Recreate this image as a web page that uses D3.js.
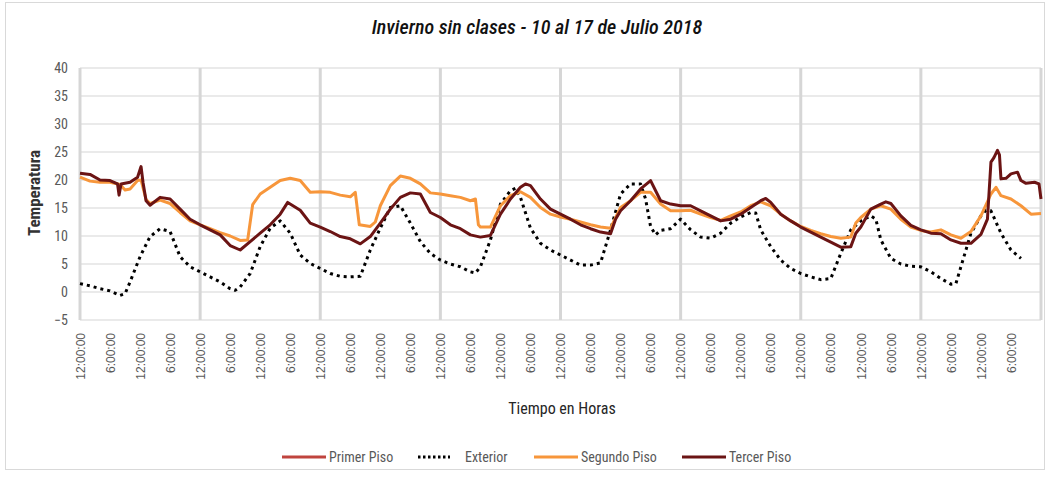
<!DOCTYPE html>
<html>
<head>
<meta charset="utf-8">
<script src="https://cdn.jsdelivr.net/npm/d3@7"></script>
<style>
  body { margin: 0; background: #ffffff; }
  svg text { font-family: "Liberation Sans Narrow", "Roboto Condensed", "Open Sans", sans-serif; }
</style>
</head>
<body>
<svg id="chart" width="1049" height="477"></svg>
<script>
// horas desde el 10 de julio 00:00 y temperaturas
const tercerHoras = [0,2,4,6,7.5,7.8,8.2,10,11.5,12.2,12.6,13.2,14,16,18,20,22,24,26,28,30,32,34,36,38,40,41.5,44,46,48,50,52,54,56,58,60,62,64,66,68,70,72,74,76,78,80,82,84,86,88,89,90,92,94,96,98,100,102,104,106,107,108,110,112,114,116,118,120,122,124,126,128,130,132,134,136,137,138,140,142,144,146,148,150,152,154,155,156,158,160,161,162,164,166,168,170,172,174,176,178,180,181.3,182,182.6,183.3,183.7,184,185,186,187.3,188,189,190.7,191.6,192];
const tercerTemp = [21.2,21.0,20.0,19.9,19.3,17.3,19.3,19.6,20.5,22.4,19.5,16.3,15.5,16.9,16.6,14.8,13.0,12.0,11.1,10.2,8.3,7.5,9.0,10.5,12.0,13.9,16.0,14.6,12.3,11.6,10.8,9.9,9.5,8.6,9.9,12.3,14.8,16.9,17.7,17.5,14.2,13.3,12.0,11.3,10.2,9.8,10.1,13.9,16.6,18.7,19.3,19.0,16.6,14.8,13.9,13.0,12.0,11.3,10.7,10.4,13.0,14.5,16.3,18.4,19.9,16.3,15.7,15.4,15.4,14.5,13.6,12.7,13.0,13.9,15.1,16.3,16.7,16.0,13.9,12.7,11.6,10.7,9.8,8.9,8.0,8.1,10.5,11.6,14.8,15.7,16.1,15.8,13.6,11.9,11.1,10.5,10.4,9.3,8.7,8.7,10.3,13.0,23.2,24.0,25.3,24.5,20.2,20.3,21.1,21.4,19.9,19.4,19.6,19.3,16.6];

const segundoHoras = [0,2,4,6,8,9,10,11.5,12.2,13.2,14,16,18,20,22,24,26,28,30,32,33.5,34.5,36,38,40,42,44,46,48,50,52,54,55,55.8,58,59,60,62,64,66,68,70,72,74,76,78,79,79.6,80,82,84,86,88,90,92,94,96,98,100,102,104,106,108,110,112,114,116,118,120,122,124,126,128,130,132,134,136,138,140,142,144,146,148,150,152,154,155,156,158,160,162,164,166,168,170,172,174,176,178,180,182,183,184,186,188,190,192];
const segundoTemp = [20.5,19.8,19.6,19.6,19.2,18.2,18.4,19.9,20.0,16.5,15.8,16.4,15.8,14.2,12.7,12.0,11.3,10.6,10.0,9.2,9.3,15.6,17.5,18.7,19.9,20.3,19.9,17.8,17.9,17.8,17.3,17.0,17.8,12.0,11.7,12.5,15.4,19.0,20.7,20.3,19.3,17.7,17.5,17.2,16.9,16.3,16.6,12.0,11.6,11.6,15.4,17.2,17.9,16.9,15.1,13.9,13.4,13.0,12.5,12.0,11.6,11.4,15.1,16.3,17.8,17.8,15.7,14.5,14.5,14.6,13.9,13.3,12.8,13.6,14.3,15.4,16.1,15.4,13.9,12.7,11.7,11.0,10.4,9.9,9.6,9.8,12.3,13.3,14.8,15.4,14.8,13.0,11.6,11.0,10.7,11.1,10.2,9.6,10.8,13.6,17.5,18.7,17.2,16.6,15.4,13.9,14.0];

const exteriorHoras = [0,2,4,6,8,9,10,12,14,16,18,20,22,24,26,28,30,31,32,34,36,38,40,42,44,46,48,50,52,54,56,58,60,62,64,66,68,70,72,74,76,78,79,80,82,84,86,87,88,90,92,94,96,98,100,102,104,106,108,110,112,113,114,115,116,118,120,122,124,126,128,130,132,134,135,136,138,140,142,144,146,148,150,152,154,156,158,159,160,162,164,166,168,170,172,174,175,176,178,180,181,182,184,186,188];
const exteriorTemp = [1.5,1.1,0.6,0.2,-0.6,-0.3,1.8,6.3,9.9,11.3,10.8,6.3,4.5,3.6,2.7,1.8,0.6,0.3,0.9,3.3,8.1,11.4,12.7,10.5,6.6,5.1,4.2,3.3,2.8,2.7,2.8,7.5,11.4,15.1,15.4,12.3,9.0,6.9,5.7,5.0,4.5,3.6,3.4,4.5,9.3,15.7,18.1,18.5,16.9,11.4,8.7,7.5,6.6,5.7,4.8,4.8,5.2,11.1,17.5,19.3,19.3,16.6,11.7,10.2,11.0,11.3,13.0,11.1,9.8,9.6,10.5,12.3,13.4,14.2,14.1,11.1,8.1,5.7,4.2,3.3,2.7,2.2,2.4,6.9,11.1,12.7,13.6,13.0,9.3,6.0,5.0,4.6,4.5,3.6,2.4,1.4,1.5,4.5,10.5,13.6,14.6,14.5,10.5,7.5,6.0];

// primer piso: aparece en la leyenda pero no tiene linea visible
const primerHoras = [];
const primerTemp = [];

const seriesNames = ["Primer Piso", "Exterior", "Segundo Piso", "Tercer Piso"];
const seriesColors = ["#c0443e", "#000000", "#f7963b", "#6b1414"];
const yTicks = [-5, 0, 5, 10, 15, 20, 25, 30, 35, 40];
const xTickLabels = ["12:00:00", "6:00:00"];
const totalHoras = 192;

const svg = d3.select("#chart");
const plotLeft = 80, plotRight = 1041, plotTop = 68, plotBottom = 320;

const x = d3.scaleLinear().domain([0, totalHoras]).range([plotLeft, plotRight]);
const y = d3.scaleLinear().domain([-5, 40]).range([plotBottom, plotTop]);

// borde del area del grafico
svg.append("rect")
  .attr("x", 5.5).attr("y", 2.5)
  .attr("width", 1039).attr("height", 467)
  .attr("fill", "#fff")
  .attr("stroke", "#d9d9d9");

svg.append("text")
  .attr("x", 537).attr("y", 34)
  .attr("text-anchor", "middle")
  .style("font-size", "20px")
  .style("font-style", "italic")
  .style("font-weight", "500")
  .attr("fill", "#111")
  .text("Invierno sin clases - 10 al 17 de Julio 2018");

// lineas horizontales
svg.append("g")
  .selectAll("line")
  .data(yTicks)
  .enter().append("line")
  .attr("x1", plotLeft).attr("x2", plotRight)
  .attr("y1", d => y(d)).attr("y2", d => y(d))
  .attr("stroke", "#e3e3e3")
  .attr("stroke-width", 1.5);

// lineas verticales por dia
svg.append("g")
  .selectAll("line")
  .data(d3.range(0, totalHoras + 1, 24))
  .enter().append("line")
  .attr("x1", d => x(d)).attr("x2", d => x(d))
  .attr("y1", plotTop).attr("y2", plotBottom)
  .attr("stroke", "#d6d6d6")
  .attr("stroke-width", 3);

const yAxis = svg.append("g")
  .attr("transform", `translate(${plotLeft},0)`)
  .call(d3.axisLeft(y).tickValues(yTicks).tickSize(0).tickPadding(12));
yAxis.select(".domain").remove();
yAxis.selectAll("text")
  .attr("fill", "#595959")
  .style("font-size", "14px");

const xAxis = svg.append("g")
  .attr("transform", `translate(0,${plotBottom})`)
  .call(d3.axisBottom(x)
    .tickValues(d3.range(0, totalHoras, 6))
    .tickSize(0)
    .tickFormat((d, i) => xTickLabels[i % 2]));
xAxis.select(".domain").remove();
xAxis.selectAll("text")
  .attr("transform", "rotate(-90)")
  .attr("text-anchor", "end")
  .attr("x", -13)
  .attr("y", 0)
  .attr("dy", "0.35em")
  .attr("fill", "#595959")
  .style("font-family", "'Liberation Sans', Arial, sans-serif")
  .style("font-size", "12px");

svg.append("text")
  .attr("transform", "translate(40,193) rotate(-90)")
  .attr("text-anchor", "middle")
  .style("font-size", "17px")
  .style("font-weight", "bold")
  .attr("fill", "#333")
  .text("Temperatura");

svg.append("text")
  .attr("x", 562).attr("y", 414)
  .attr("text-anchor", "middle")
  .style("font-size", "16px")
  .attr("fill", "#262626")
  .text("Tiempo en Horas");

const line = d3.line()
  .x(d => x(d[0]))
  .y(d => y(d[1]));

const series = [
  { horas: primerHoras, temp: primerTemp, dash: null, w: 3 },
  { horas: exteriorHoras, temp: exteriorTemp, dash: "3,4", w: 3 },
  { horas: segundoHoras, temp: segundoTemp, dash: null, w: 3 },
  { horas: tercerHoras, temp: tercerTemp, dash: null, w: 3 }
];

series.forEach((s, i) => {
  const pts = s.horas.map((h, j) => [h, s.temp[j]]);
  if (!pts.length) return;
  svg.append("path")
    .attr("d", line(pts))
    .attr("fill", "none")
    .attr("stroke", seriesColors[i])
    .attr("stroke-width", s.w)
    .attr("stroke-linejoin", "round")
    .attr("stroke-dasharray", s.dash);
});

// leyenda
const legendX = [282, 418, 534, 682];
const legend = svg.append("g");
seriesNames.forEach((name, i) => {
  const g = legend.append("g").attr("transform", `translate(${legendX[i]},457)`);
  g.append("line")
    .attr("x1", 0).attr("x2", i === 1 ? 32 : 44)
    .attr("y1", 0).attr("y2", 0)
    .attr("stroke", seriesColors[i])
    .attr("stroke-width", 3)
    .attr("stroke-dasharray", i === 1 ? "2.5,2.5" : null);
  g.append("text")
    .attr("x", 47)
    .attr("y", 0)
    .attr("dy", "0.35em")
    .style("font-size", "14px")
    .attr("fill", "#595959")
    .text(name);
});
</script>
</body>
</html>
